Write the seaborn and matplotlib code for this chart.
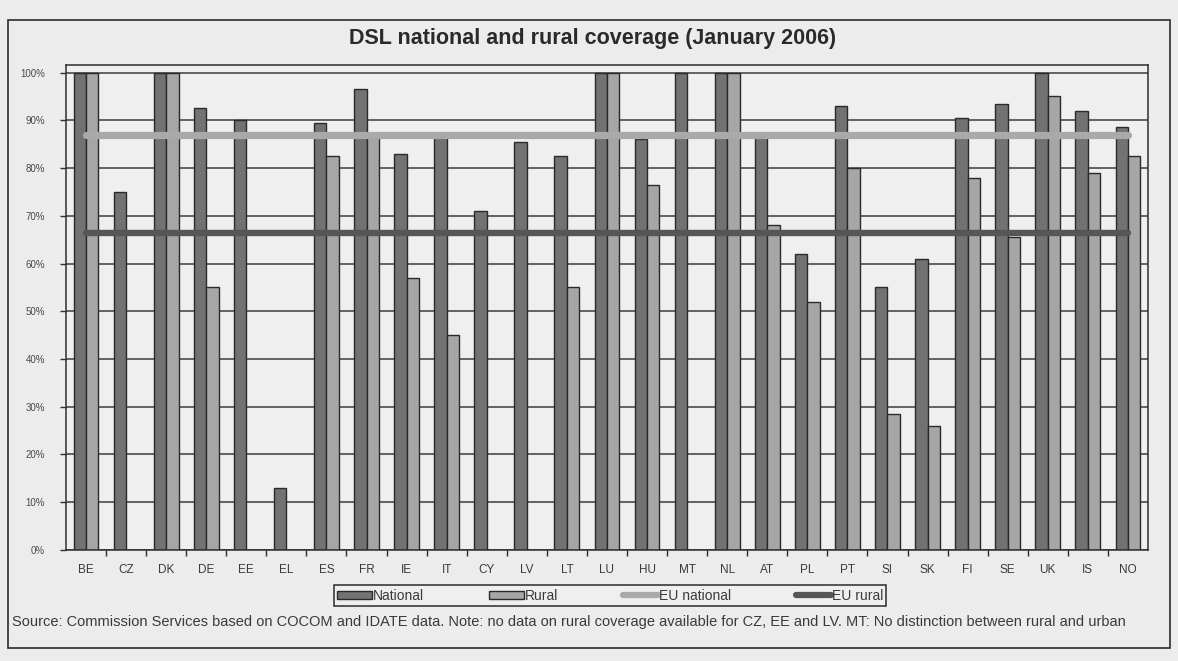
import numpy as np
import pandas as pd
import matplotlib
matplotlib.use("Agg")
import matplotlib.pyplot as plt
from matplotlib.patches import Patch, Rectangle
from matplotlib.lines import Line2D
from matplotlib.ticker import FixedLocator, PercentFormatter
import seaborn as sns

# DSL coverage, January 2006 (% of population)
countries = ["BE", "CZ", "DK", "DE", "EE", "EL", "ES", "FR", "IE", "IT", "CY", "LV", "LT",
             "LU", "HU", "MT", "NL", "AT", "PL", "PT", "SI", "SK", "FI", "SE", "UK", "IS", "NO"]
national = [100, 75, 100, 92.5, 90, 13, 89.5, 96.5, 83, 87, 71, 85.5, 82.5,
            100, 86, 100, 100, 86.5, 62, 93, 55, 61, 90.5, 93.5, 100, 92, 88.5]
rural = [100, np.nan, 100, 55, np.nan, np.nan, 82.5, 87, 57, 45, np.nan, np.nan, 55,
         100, 76.5, np.nan, 100, 68, 52, 80, 28.5, 26, 78, 65.5, 95, 79, 82.5]
eu_national = 87.0
eu_rural = 66.5

series_names = ["National", "Rural"]
bar_colors = {"National": "#727272", "Rural": "#a6a6a6"}
eu_nat_color = "#a9a9a9"
eu_rur_color = "#565656"

df = pd.DataFrame({
    "country": countries * 2,
    "series": ["National"] * len(countries) + ["Rural"] * len(countries),
    "value": list(national) + list(rural),
})

sns.set_theme(style="white")
plt.rcParams["font.family"] = ["Liberation Sans", "DejaVu Sans"]

fig = plt.figure(figsize=(11.78, 6.61), dpi=100, facecolor="#ececec")
ax = fig.add_axes([0.056, 0.168, 0.9185, 0.733])
ax.set_facecolor("#efefef")

# horizontal gridlines behind the bars
ax.set_axisbelow(True)
ax.yaxis.grid(True, color="#3c3c3c", linewidth=1.1)
ax.xaxis.grid(False)

sns.barplot(data=df, x="country", y="value", hue="series", order=countries,
            hue_order=series_names, palette=bar_colors, width=0.62, dodge=True,
            edgecolor="#2a2a2a", linewidth=1.0, saturation=1, legend=False, ax=ax)

n = len(countries)
xpos = np.arange(n)
sns.lineplot(x=xpos, y=np.full(n, eu_national), color=eu_nat_color, linewidth=5.2,
             ax=ax, legend=False)
sns.lineplot(x=xpos, y=np.full(n, eu_rural), color=eu_rur_color, linewidth=4.6,
             ax=ax, legend=False)

ax.set_xlim(-0.5, n - 0.5)
ax.set_ylim(0, 101.5)
ax.yaxis.set_major_locator(FixedLocator(np.arange(0, 101, 10)))
ax.yaxis.set_major_formatter(PercentFormatter(decimals=0))
ax.set_xlabel("")
ax.set_ylabel("")

for s in ax.spines.values():
    s.set_visible(True)
    s.set_color("#2e2e2e")
    s.set_linewidth(1.1)

ax.tick_params(axis="y", which="major", direction="out", length=4, width=1,
               color="#2e2e2e", labelsize=7, labelcolor="#4a4a4a", pad=11, left=True)
ax.tick_params(axis="x", which="major", length=0, labelsize=8.5,
               labelcolor="#3a3a3a", pad=10)
ax.xaxis.set_minor_locator(FixedLocator(np.arange(0.5, n - 1, 1.0)))
ax.tick_params(axis="x", which="minor", direction="out", length=4, width=1,
               color="#2e2e2e", bottom=True)

fig.text(0.503, 0.942, "DSL national and rural coverage (January 2006)",
         ha="center", va="center", fontsize=15.5, fontweight="bold", color="#2a2a2a")

handles = [
    Patch(facecolor=bar_colors["National"], edgecolor="#2a2a2a", linewidth=1.0),
    Patch(facecolor=bar_colors["Rural"], edgecolor="#2a2a2a", linewidth=1.0),
    Line2D([0], [0], color=eu_nat_color, linewidth=4.5),
    Line2D([0], [0], color=eu_rur_color, linewidth=4.5),
]
labels = ["National", "Rural", "EU national", "EU rural"]
leg = fig.legend(handles, labels, loc="center", bbox_to_anchor=(0.518, 0.099),
                 ncol=4, fontsize=10, frameon=True, fancybox=False,
                 edgecolor="#2a2a2a", facecolor="#efefef", framealpha=1,
                 handlelength=2.5, handleheight=0.5, handletextpad=0.05,
                 columnspacing=4.7, borderpad=0.25, borderaxespad=0)
leg.get_frame().set_linewidth(1.1)
for t in leg.get_texts():
    t.set_color("#3a3a3a")

fig.text(0.010, 0.059,
         "Source: Commission Services based on COCOM and IDATE data. Note: no data on rural "
         "coverage available for CZ, EE and LV. MT: No distinction between rural and urban",
         ha="left", va="center", fontsize=10.5, color="#3a3a3a")

fig.add_artist(Rectangle((0.0068, 0.0197), 0.9864, 0.950, transform=fig.transFigure,
                         fill=False, edgecolor="#3a3a3a", linewidth=1.3))

fig.savefig("out.png", dpi=100, facecolor=fig.get_facecolor())
